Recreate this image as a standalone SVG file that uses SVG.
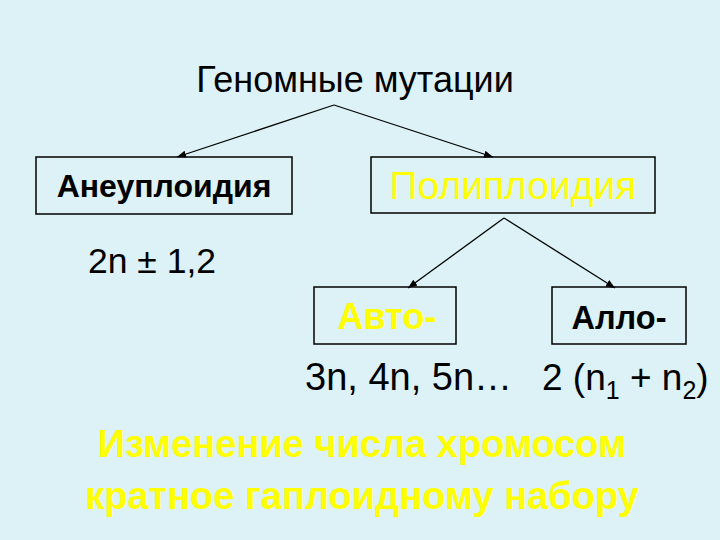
<svg xmlns="http://www.w3.org/2000/svg" width="720" height="540" viewBox="0 0 720 540">
<defs>
<style>
.t{font-family:"Liberation Sans",Arial,sans-serif}
.box{fill:none;stroke:#000;stroke-width:1.5}
.c line{stroke:#000;stroke-width:1.3}
.y{fill:#ffff00}
</style>
<marker id="a" viewBox="0 0 10 10" refX="10" refY="5" markerWidth="7" markerHeight="7" orient="auto"><path d="M0,1 L10,5 L0,9z" fill="#000"/></marker>
</defs>
<rect width="720" height="540" fill="#dcf2f6"/>
<g id="title"><text class="t" x="355" y="92" font-size="36" text-anchor="middle">Геномные мутации</text></g>
<g class="c" id="connectors">
<line x1="334" y1="105" x2="177" y2="157" marker-end="url(#a)"/>
<line x1="334" y1="105" x2="493" y2="157" marker-end="url(#a)"/>
<line x1="504" y1="218" x2="408" y2="288" marker-end="url(#a)"/>
<line x1="504" y1="218" x2="615" y2="288" marker-end="url(#a)"/>
</g>
<g id="aneu"><rect class="box" x="36" y="157" width="256" height="57"/><text class="t" x="164" y="197" font-size="32" font-weight="bold" text-anchor="middle">Анеуплоидия</text></g>
<g id="poly"><rect class="box" x="371" y="157" width="284" height="56"/><text class="t y" x="513" y="199" font-size="39" text-anchor="middle">Полиплоидия</text></g>
<g id="aneu-f"><text class="t" x="88" y="273" font-size="35.5">2n ± 1,2</text></g>
<g id="auto"><rect class="box" x="314" y="287" width="142" height="57"/><text class="t y" x="387" y="329" font-size="36" font-weight="bold" text-anchor="middle">Авто-</text></g>
<g id="allo"><rect class="box" x="552" y="287" width="134" height="57"/><text class="t" x="619" y="329" font-size="32.5" font-weight="bold" text-anchor="middle">Алло-</text></g>
<g id="auto-f"><text class="t" x="305" y="390" font-size="38">3n, 4n, 5n…</text></g>
<g id="allo-f"><text class="t" x="542" y="390" font-size="37">2 (n<tspan font-size="25" dy="9">1</tspan><tspan dy="-9"> + n</tspan><tspan font-size="25" dy="9">2</tspan><tspan dy="-9">)</tspan></text></g>
<g id="note"><text class="t y" x="362" y="457" font-size="38" font-weight="bold" text-anchor="middle">Изменение числа хромосом</text>
<text class="t y" x="362" y="509" font-size="38" font-weight="bold" text-anchor="middle">кратное гаплоидному набору</text></g>
</svg>
